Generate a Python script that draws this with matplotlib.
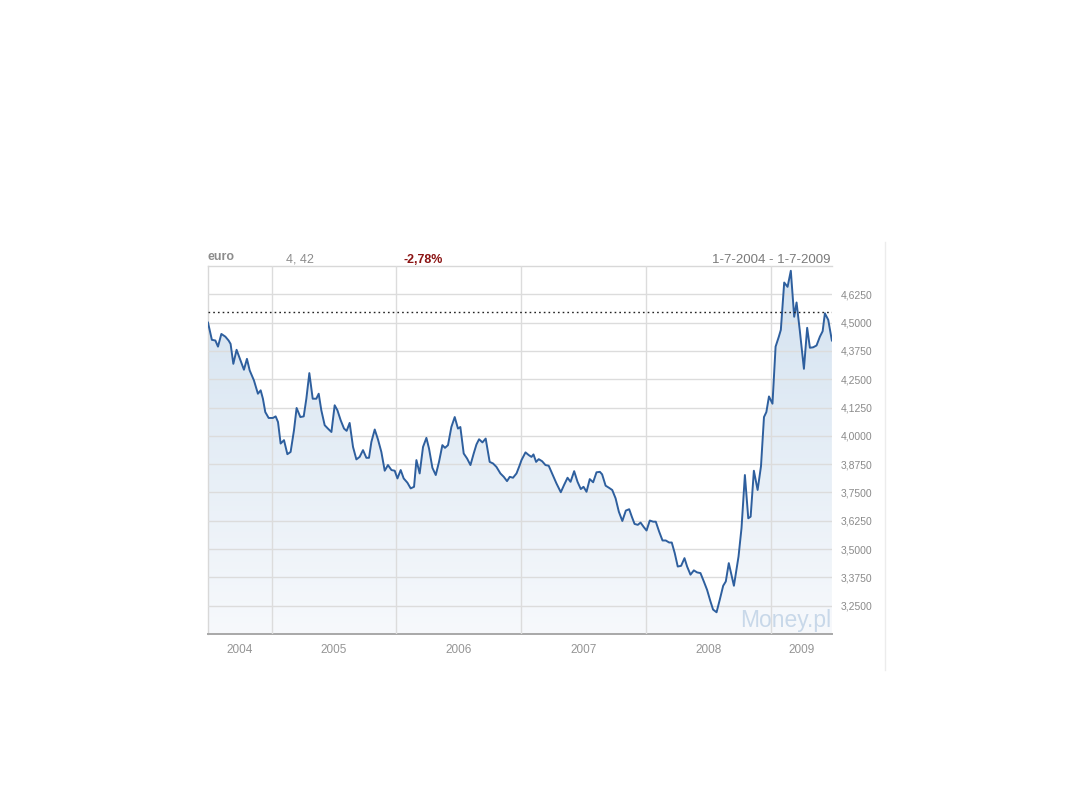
import numpy as np
import matplotlib
matplotlib.use("Agg")
import matplotlib.pyplot as plt
from matplotlib.colors import LinearSegmentedColormap
from matplotlib.lines import Line2D

plt.rcParams['font.family'] = ['Liberation Sans', 'DejaVu Sans']

# ---- data (decimal year, EUR/PLN rate) ----
years_dec = [
    2004.490, 2004.521, 2004.549, 2004.570, 2004.597, 2004.629, 2004.655, 2004.671, 2004.693, 2004.719,
    2004.751, 2004.778, 2004.802, 2004.824, 2004.858, 2004.890, 2004.912, 2004.930, 2004.949, 2004.976,
    2005.010, 2005.032, 2005.051, 2005.072, 2005.099, 2005.126, 2005.152, 2005.179, 2005.200, 2005.230,
    2005.257, 2005.278, 2005.302, 2005.329, 2005.358, 2005.377, 2005.398, 2005.425, 2005.451, 2005.479,
    2005.505, 2005.527, 2005.553, 2005.580, 2005.601, 2005.625, 2005.652, 2005.679, 2005.705, 2005.732,
    2005.759, 2005.780, 2005.799, 2005.826, 2005.852, 2005.879, 2005.906, 2005.932, 2005.960, 2005.986,
    2006.008, 2006.034, 2006.058, 2006.088, 2006.114, 2006.141, 2006.160, 2006.186, 2006.213, 2006.240,
    2006.261, 2006.288, 2006.315, 2006.341, 2006.368, 2006.389, 2006.413, 2006.440, 2006.467, 2006.493,
    2006.512, 2006.539, 2006.566, 2006.593, 2006.619, 2006.641, 2006.662, 2006.689, 2006.715, 2006.747,
    2006.774, 2006.801, 2006.833, 2006.860, 2006.886, 2006.908, 2006.934, 2006.962, 2006.988, 2007.002,
    2007.034, 2007.060, 2007.082, 2007.098, 2007.119, 2007.140, 2007.167, 2007.194, 2007.220, 2007.247,
    2007.282, 2007.317, 2007.343, 2007.371, 2007.395, 2007.424, 2007.451, 2007.477, 2007.499, 2007.523,
    2007.549, 2007.576, 2007.603, 2007.630, 2007.648, 2007.676, 2007.702, 2007.729, 2007.756, 2007.782,
    2007.810, 2007.838, 2007.865, 2007.886, 2007.908, 2007.934, 2007.956, 2007.982, 2008.004, 2008.030,
    2008.057, 2008.078, 2008.105, 2008.132, 2008.158, 2008.185, 2008.206, 2008.230, 2008.254, 2008.281,
    2008.308, 2008.329, 2008.356, 2008.383, 2008.409, 2008.436, 2008.463, 2008.489, 2008.516, 2008.537,
    2008.565, 2008.591, 2008.618, 2008.639, 2008.663, 2008.704, 2008.741, 2008.765, 2008.792, 2008.819,
    2008.838, 2008.864, 2008.894, 2008.921, 2008.945, 2008.964, 2008.985, 2009.013, 2009.038, 2009.064,
    2009.080, 2009.107, 2009.134, 2009.160, 2009.187, 2009.206, 2009.232, 2009.265, 2009.291, 2009.313,
    2009.339, 2009.366, 2009.393, 2009.415, 2009.433, 2009.460, 2009.489,
]
eur_pln = [
    4.500, 4.424, 4.421, 4.394, 4.450, 4.438, 4.421, 4.406, 4.318, 4.380,
    4.333, 4.292, 4.340, 4.289, 4.245, 4.186, 4.201, 4.164, 4.105, 4.079,
    4.079, 4.086, 4.061, 3.966, 3.981, 3.919, 3.929, 4.025, 4.123, 4.083,
    4.086, 4.164, 4.277, 4.164, 4.164, 4.186, 4.113, 4.047, 4.032, 4.017,
    4.135, 4.113, 4.069, 4.032, 4.022, 4.057, 3.951, 3.896, 3.907, 3.937,
    3.903, 3.903, 3.973, 4.028, 3.984, 3.929, 3.846, 3.871, 3.849, 3.846,
    3.812, 3.849, 3.812, 3.793, 3.768, 3.775, 3.893, 3.834, 3.951, 3.991,
    3.944, 3.859, 3.827, 3.885, 3.959, 3.947, 3.959, 4.039, 4.083, 4.032,
    4.039, 3.922, 3.900, 3.871, 3.922, 3.962, 3.985, 3.971, 3.988, 3.885,
    3.878, 3.863, 3.834, 3.819, 3.800, 3.819, 3.815, 3.834, 3.871, 3.893,
    3.927, 3.915, 3.907, 3.918, 3.885, 3.897, 3.888, 3.871, 3.868, 3.834,
    3.790, 3.751, 3.783, 3.815, 3.797, 3.844, 3.797, 3.765, 3.775, 3.753,
    3.809, 3.795, 3.839, 3.841, 3.830, 3.780, 3.771, 3.761, 3.724, 3.665,
    3.624, 3.670, 3.676, 3.643, 3.611, 3.607, 3.617, 3.597, 3.582, 3.626,
    3.621, 3.621, 3.577, 3.538, 3.538, 3.529, 3.529, 3.482, 3.423, 3.426,
    3.460, 3.423, 3.387, 3.406, 3.397, 3.394, 3.357, 3.320, 3.269, 3.233,
    3.221, 3.277, 3.338, 3.357, 3.438, 3.338, 3.467, 3.593, 3.827, 3.636,
    3.643, 3.846, 3.761, 3.866, 4.083, 4.105, 4.174, 4.142, 4.394, 4.438,
    4.468, 4.677, 4.658, 4.729, 4.526, 4.589, 4.465, 4.296, 4.477, 4.389,
    4.391, 4.399, 4.438, 4.462, 4.541, 4.512, 4.421,
]
y_ticks = [3.25, 3.375, 3.5, 3.625, 3.75, 3.875, 4.0, 4.125, 4.25, 4.375, 4.5, 4.625]
y_tick_labels = ["3,2500", "3,3750", "3,5000", "3,6250", "3,7500", "3,8750",
                 "4,0000", "4,1250", "4,2500", "4,3750", "4,5000", "4,6250"]
year_labels = [2004, 2005, 2006, 2007, 2008, 2009]
reference_level = 4.546
title_name = "euro"
last_value_text = "4, 42"
change_text = "-2,78%"
range_text = "1-7-2004 - 1-7-2009"

x_min, x_max = 2004.49, 2009.49
y_min, y_max = 3.125, 4.75

# ---- figure ----
W, H = 1080, 810
fig = plt.figure(figsize=(W / 100, H / 100), dpi=100)
fig.patch.set_facecolor("white")
ax = fig.add_axes([208 / W, 1 - 634 / H, (832 - 208) / W, (634 - 266) / H])
ax.set_facecolor("white")

x = np.array(years_dec)
y = np.array(eur_pln)

# gradient area fill under the line
poly = ax.fill_between(x, y, y_min, facecolor="none", edgecolor="none")
cmap = LinearSegmentedColormap.from_list("bluefade", ["#f7f9fc", "#d3e2f0"])
grad = np.linspace(0, 1, 256).reshape(-1, 1)
im = ax.imshow(grad, extent=[x_min, x_max, y_min, y_max], origin="lower",
               aspect="auto", cmap=cmap, zorder=1)
im.set_clip_path(poly.get_paths()[0], transform=ax.transData)

ax.plot(x, y, color="#2e5f9e", lw=1.4, zorder=4, solid_joinstyle="round")
ax.axhline(reference_level, color="#222222", ls=(0, (1.2, 2.2)), lw=1.0, zorder=5)

ax.set_xlim(x_min, x_max)
ax.set_ylim(y_min, y_max)

# grid
ax.set_yticks(y_ticks)
ax.set_yticklabels(y_tick_labels)
ax.set_xticks([2005, 2006, 2007, 2008, 2009], minor=True)
mids = [(max(yr, x_min) + min(yr + 1, x_max)) / 2 for yr in year_labels]
ax.set_xticks(mids)
ax.set_xticklabels([str(yr) for yr in year_labels])
ax.grid(axis="y", which="major", color="#dcdcdc", lw=1.0, zorder=2)
ax.grid(axis="x", which="minor", color="#dcdcdc", lw=1.0, zorder=2)
ax.grid(axis="x", which="major", visible=False)
ax.set_axisbelow(False)

ax.yaxis.tick_right()
ax.tick_params(axis="y", length=0, pad=6, labelsize=7.5, labelcolor="#8a8a8a")
ax.tick_params(axis="x", which="both", length=0, pad=7.5, labelsize=8.5, labelcolor="#959595")

for s in ["top", "left"]:
    ax.spines[s].set_color("#d8d8d8")
    ax.spines[s].set_linewidth(1.0)
ax.spines["right"].set_visible(False)
ax.spines["bottom"].set_color("#a8a8a8")
ax.spines["bottom"].set_linewidth(1.4)

# watermark
ax.text(0.998, 0.005, "Money.pl", transform=ax.transAxes, ha="right", va="bottom",
        fontsize=16.5, color="#c8d8e9", zorder=3)

# header texts
fig.text(208 / W, 1 - 257 / H, title_name, ha="left", va="center", fontsize=9,
         fontweight="bold", color="#8c8c8c")
fig.text(286 / W, 1 - 260 / H, last_value_text, ha="left", va="center", fontsize=9,
         color="#8c8c8c")
fig.text(404 / W, 1 - 260 / H, change_text, ha="left", va="center", fontsize=9,
         fontweight="bold", color="#8b1414")
fig.text(830 / W, 1 - 260 / H, range_text, ha="right", va="center", fontsize=9.5,
         color="#7a7a7a")

# faint frame line on the right
fig.add_artist(Line2D([885 / W, 885 / W], [1 - 242 / H, 1 - 670 / H],
                      color="#ececec", lw=1.0))

fig.savefig("out.png", dpi=100, facecolor="white")
